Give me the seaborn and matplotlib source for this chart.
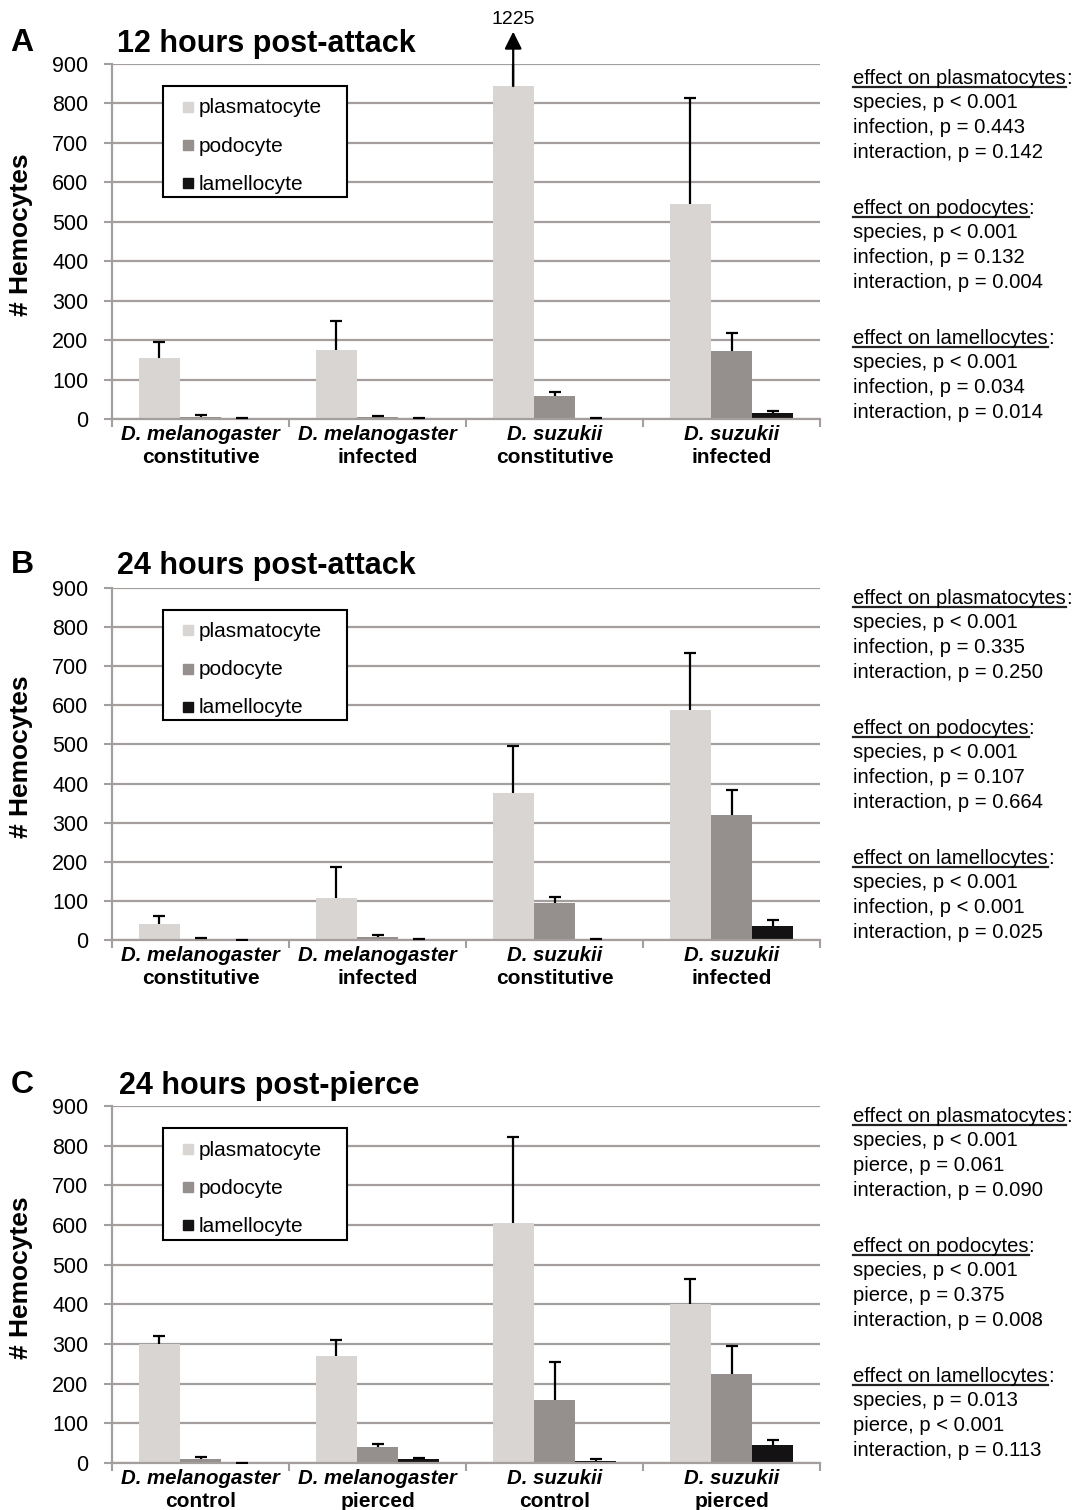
import numpy as np
import pandas as pd
import matplotlib.pyplot as plt
from matplotlib.lines import Line2D
from matplotlib.patches import Rectangle
import seaborn as sns

# groups on the x axis
species = ["D. melanogaster", "D. melanogaster", "D. suzukii", "D. suzukii"]
treat_attack = ["constitutive", "infected", "constitutive", "infected"]
treat_pierce = ["control", "pierced", "control", "pierced"]
cell_types = ["plasmatocyte", "podocyte", "lamellocyte"]

# A: 12 hours post-attack (mean, upper error)
a_plasm = [154, 176, 844, 544]
a_plasm_err = [41, 72, 381, 269]
a_podo = [6, 5, 59, 173]
a_podo_err = [4, 3, 10, 44]
a_lamel = [2, 2, 2, 14]
a_lamel_err = [0, 0, 1, 7]

# B: 24 hours post-attack
b_plasm = [41, 108, 375, 587]
b_plasm_err = [21, 79, 122, 147]
b_podo = [3, 8, 94, 319]
b_podo_err = [3, 6, 17, 64]
b_lamel = [1, 2, 2, 37]
b_lamel_err = [0, 0, 0, 13]

# C: 24 hours post-pierce
c_plasm = [301, 269, 605, 400]
c_plasm_err = [18, 42, 218, 65]
c_podo = [11, 40, 160, 225]
c_podo_err = [5, 9, 94, 70]
c_lamel = [1, 10, 4, 46]
c_lamel_err = [0, 3, 7, 12]

# two-way ANOVA results printed next to each panel
stat_heads = ["effect on plasmatocytes", "effect on podocytes", "effect on lamellocytes"]
a_stats = [["species, p < 0.001", "infection, p = 0.443", "interaction, p = 0.142"],
           ["species, p < 0.001", "infection, p = 0.132", "interaction, p = 0.004"],
           ["species, p < 0.001", "infection, p = 0.034", "interaction, p = 0.014"]]
b_stats = [["species, p < 0.001", "infection, p = 0.335", "interaction, p = 0.250"],
           ["species, p < 0.001", "infection, p = 0.107", "interaction, p = 0.664"],
           ["species, p < 0.001", "infection, p < 0.001", "interaction, p = 0.025"]]
c_stats = [["species, p < 0.001", "pierce, p = 0.061", "interaction, p = 0.090"],
           ["species, p < 0.001", "pierce, p = 0.375", "interaction, p = 0.008"],
           ["species, p = 0.013", "pierce, p < 0.001", "interaction, p = 0.113"]]

palette = {"plasmatocyte": "#d9d5d3", "podocyte": "#958f8d", "lamellocyte": "#151213"}
grid_c = "#a49e9c"

plt.rcParams['font.family'] = ['Liberation Sans', 'DejaVu Sans']

W, H = 1076, 1510
fig = plt.figure(figsize=(W / 100, H / 100), dpi=100)


def fx(px):
    return px / W


def fy(py):
    return 1 - py / H


def draw_panel(top_px, bot_px, means, errs, treatments):
    ax = fig.add_axes([fx(112), fy(bot_px), fx(820 - 112), (bot_px - top_px) / H])
    labels = [f"{s}\n{t}" for s, t in zip(species, treatments)]
    df = pd.DataFrame({
        "group": labels * 3,
        "cell": np.repeat(cell_types, 4),
        "count": np.concatenate(means),
    })
    sns.barplot(data=df, x="group", y="count", hue="cell", order=labels,
                hue_order=cell_types, palette=palette, width=0.7, saturation=1,
                errorbar=None, legend=False, zorder=2, ax=ax)
    bars = list(ax.containers[:3])
    for cont, err in zip(bars, errs):
        xs = [b.get_x() + b.get_width() / 2 for b in cont]
        hs = [b.get_height() for b in cont]
        eb = ax.errorbar(xs, hs, yerr=[np.zeros(len(err)), err], fmt="none",
                         ecolor="black", elinewidth=1.6, capsize=4.5, capthick=1.6, zorder=3)
        # keep only the upper caps
        for cl in eb.lines[1]:
            if np.allclose(cl.get_ydata(), hs):
                cl.remove()

    ax.set_ylim(0, 900)
    ax.set_xlim(-0.5, 3.5)
    ax.set_yticks(range(0, 901, 100))
    ax.set_xticks([-0.5, 0.5, 1.5, 2.5, 3.5])
    ax.set_xticklabels([])
    ax.yaxis.grid(True, color=grid_c, lw=1.6)
    ax.set_axisbelow(True)
    ax.tick_params(axis="x", length=6, width=1.5, color=grid_c)
    ax.tick_params(axis="y", length=6, width=1.5, color=grid_c, labelsize=15.5, pad=11)
    for s in ["top", "right"]:
        ax.spines[s].set_visible(False)
    for s in ["left", "bottom"]:
        ax.spines[s].set_color(grid_c)
        ax.spines[s].set_linewidth(1.6)
    ax.set_xlabel("")
    ax.set_ylabel("")

    # two-line group labels: species in italics, treatment plain
    trans = ax.get_xaxis_transform()
    for i, (s, t) in enumerate(zip(species, treatments)):
        ax.annotate(s, xy=(i, 0), xycoords=trans, xytext=(0, -11), textcoords="offset points",
                    ha="center", va="center", fontsize=14.7, fontweight="bold", fontstyle="italic",
                    annotation_clip=False)
        ax.annotate(t, xy=(i, 0), xycoords=trans, xytext=(0, -28), textcoords="offset points",
                    ha="center", va="center", fontsize=15, fontweight="bold",
                    annotation_clip=False)

    # legend box drawn separately so the padding can match
    ax.add_patch(Rectangle((0.072, 0.625), 0.26, 0.313, transform=ax.transAxes,
                           facecolor="white", edgecolor="black", lw=1.5, zorder=6,
                           clip_on=False))
    handles = [Line2D([], [], marker="s", ls="", markersize=7.5, color=palette[c])
               for c in cell_types]
    leg = ax.legend(handles, cell_types, loc="upper left", bbox_to_anchor=(0.1, 0.903),
                    frameon=False, fontsize=15, handlelength=0.5, handleheight=0.5,
                    handletextpad=0.25, labelspacing=0.92, borderpad=0, borderaxespad=0)
    leg.set_zorder(7)

    fig.text(fx(21), fy((top_px + bot_px) / 2 - 7), "# Hemocytes", rotation=90,
             ha="center", va="center", fontsize=19, fontweight="bold")
    return ax, bars


heads = []


def draw_stats(first_px, blocks):
    for k, (head, lines) in enumerate(zip(stat_heads, blocks)):
        base = first_px + 7 + 130 * k
        t = fig.text(fx(853), fy(base), head, ha="left", va="baseline", fontsize=14.6)
        heads.append(t)
        for j, line in enumerate(lines):
            fig.text(fx(853), fy(base + 24.5 * (j + 1)), line, ha="left", va="baseline",
                     fontsize=14.6)


ax_a, bars_a = draw_panel(64, 419, [a_plasm, a_podo, a_lamel],
                          [a_plasm_err, a_podo_err, a_lamel_err], treat_attack)
ax_b, _ = draw_panel(588, 940, [b_plasm, b_podo, b_lamel],
                     [b_plasm_err, b_podo_err, b_lamel_err], treat_attack)
ax_c, _ = draw_panel(1106, 1463, [c_plasm, c_podo, c_lamel],
                     [c_plasm_err, c_podo_err, c_lamel_err], treat_pierce)

# off-scale error bar in A, shown as an arrow with its value
bar = bars_a[0][2]
xc = bar.get_x() + bar.get_width() / 2
top_val = a_plasm[2] + a_plasm_err[2]
ax_a.annotate("", xy=(xc, 982), xytext=(xc, bar.get_height()),
              arrowprops=dict(arrowstyle="-|>", color="black", lw=1.6, mutation_scale=26,
                              shrinkA=0, shrinkB=0),
              annotation_clip=False, zorder=4)
ax_a.text(xc, 1013, str(top_val), ha="center", va="center", fontsize=14, clip_on=False)

draw_stats(77, a_stats)
draw_stats(597, b_stats)
draw_stats(1115, c_stats)

for letter, title, tx, ty in [("A", "12 hours post-attack", 117, 44),
                              ("B", "24 hours post-attack", 117, 566),
                              ("C", "24 hours post-pierce", 119, 1086)]:
    fig.text(fx(22), fy(ty - 1), letter, ha="center", va="center", fontsize=23, fontweight="bold")
    fig.text(fx(tx), fy(ty), title, ha="left", va="center", fontsize=22, fontweight="bold")

# underline the stats headings, then add the colon
fig.canvas.draw()
r = fig.canvas.get_renderer()
for t in heads:
    bb = t.get_window_extent(r)
    x0, x1 = bb.x0 / W, bb.x1 / W
    yb = t.get_position()[1] - 3 / H
    fig.add_artist(Line2D([x0, x1], [yb, yb], color="#222222", lw=1.6))
    fig.text(x1, t.get_position()[1], ":", ha="left", va="baseline", fontsize=14.6)

fig.savefig("out.png", dpi=100)
